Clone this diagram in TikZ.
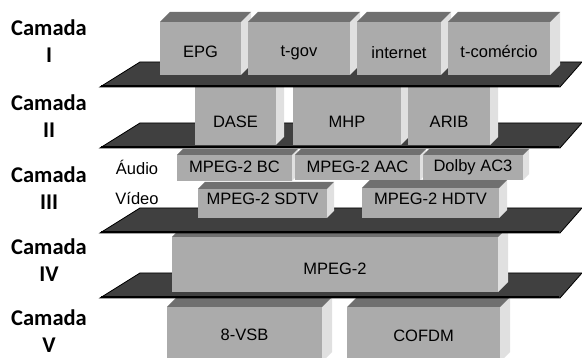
\documentclass[tikz,border=0pt]{standalone}
\usepackage{fontspec}
\setmainfont{Liberation Sans}
\newfontfamily\capfont{Carlito}
\definecolor{slab}{HTML}{404040}
\definecolor{face}{HTML}{ABABAB}
\definecolor{lid}{HTML}{707070}
\definecolor{flank}{HTML}{E0E0E0}
% #1 name, #2 left, #3 right, #4 top, #5 bottom, #6 depth, #7 text y, #8 text
\newcommand\cubebox[8]{%
 \fill[sideface] (#3,#4) -- ++(#6,-#6) -- ++(0,{#5-#4}) -- (#3,#5) -- cycle;
 \fill[lidface] (#2,#4) -- ++(#6,-#6) -- ({#3+#6},{#4-#6}) -- (#3,#4) -- cycle;
 \fill[frontface] (#2,#4) rectangle (#3,#5);
 \node[lbl] (#1) at ({(#2+#3)/2},#7) {#8};}
\newcommand\slab[1]{%
 \fill[plat] (100,{#1+25}) -- (140,#1) -- (582,#1) -- (560,{#1+25}) -- cycle;
 \draw[rim] (101,{#1+24}) -- (559,{#1+24});}

\begin{document}
\begin{tikzpicture}[x=1pt,y=-1pt,
 plat/.style={fill=slab,draw=black,line width=.8pt},
 rim/.style={black,line width=2.8pt},
 frontface/.style={fill=face},lidface/.style={fill=lid},sideface/.style={fill=flank},
 lbl/.style={font=\fontsize{16.5}{18}\selectfont,inner sep=0pt},
 layer/.style={font=\capfont\bfseries\fontsize{22.5}{24}\selectfont,inner sep=0pt}]
 \useasboundingbox (0,0) rectangle (582,358);
 \fill[white] (0,0) rectangle (582,358);
 % bottom up: each slab hides the lids of the layer below it
 \cubebox{vsb}{167}{322}{307}{362}{10}{335}{8-VSB}
 \cubebox{cofdm}{347}{500}{307}{362}{10}{336}{COFDM}
 \slab{273}
 \cubebox{mpeg}{172}{498}{237}{292}{10}{269}{MPEG-2}
 \slab{208}
 \cubebox{sdtv}{198}{327}{189}{218}{7}{199}{MPEG-2 SDTV}
 \cubebox{hdtv}{362}{499}{188}{218}{8}{199}{MPEG-2 HDTV}
 \cubebox{bc}{177}{292}{155}{181}{6}{167}{MPEG-2 BC}
 \cubebox{aac}{295}{420}{155}{180}{6}{167}{MPEG-2 AAC}
 \cubebox{dolby}{423}{523}{155}{180}{6}{167}{Dolby AC3}
 \slab{123}
 \cubebox{dase}{195}{276}{86}{145}{8}{122}{DASE}
 \cubebox{mhp}{293}{401}{86}{145}{8}{122}{MHP}
 \cubebox{arib}{408}{490}{86}{145}{8}{122}{ARIB}
 \slab{62}
 \cubebox{epg}{160}{241}{22}{75}{10}{52}{EPG}
 \cubebox{tgov}{248}{350}{22}{75}{10}{53}{t-gov}
 \cubebox{inet}{357}{441}{22}{75}{10}{53}{internet}
 \cubebox{tcom}{448}{550}{22}{75}{10}{52}{t-comércio}
 \node[lbl] (audio) at (137,167) {Áudio};
 \node[lbl] (video) at (137,199) {Vídeo};
 \foreach \i/\r/\y in {1/I/28,2/II/103,3/III/175,4/IV/247,5/V/318}{
  \node[layer] (cam\i) at (49,\y) {Camada};
  \node[layer] (num\i) at (49,\y+27) {\r};}
\end{tikzpicture}
\end{document}
